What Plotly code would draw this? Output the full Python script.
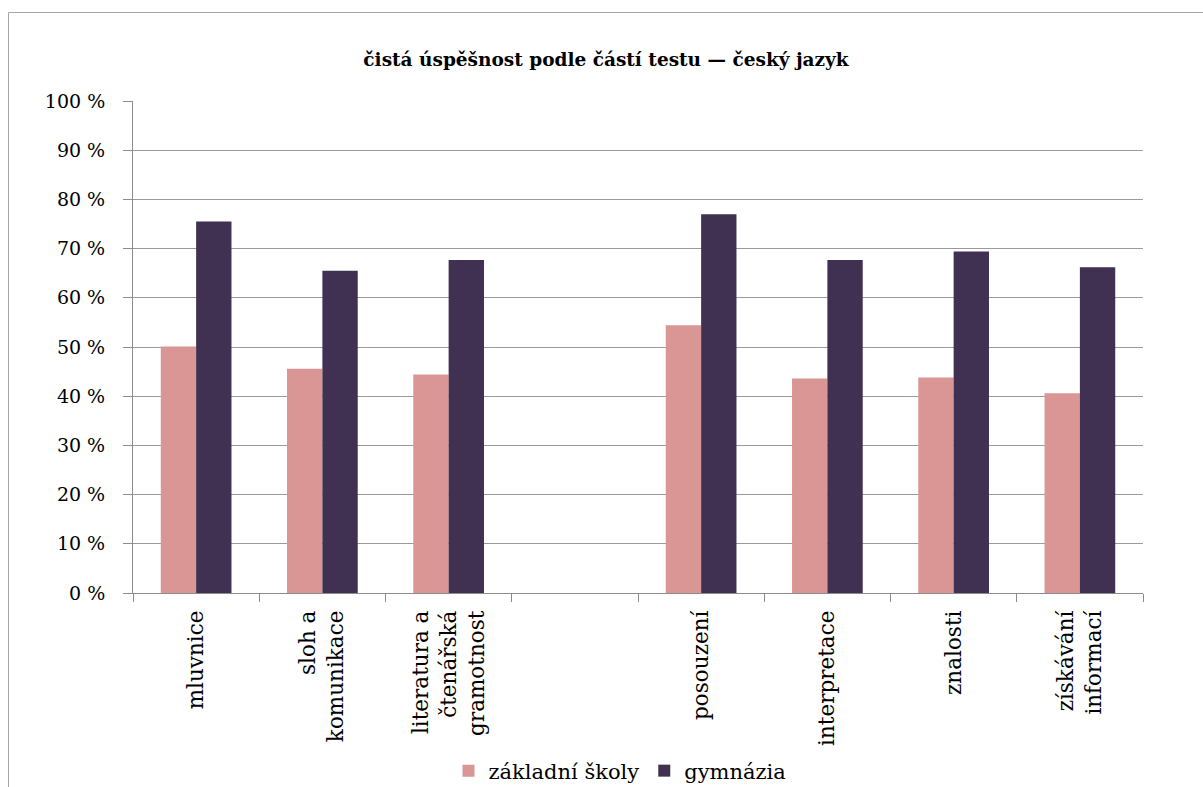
import plotly.graph_objects as go

categories = ["mluvnice", "sloh a<br>komunikace", "literatura a<br>čtenářská<br>gramotnost", " ",
              "posouzení", "interpretace", "znalosti", "získávání<br>informací"]
zakladni = [50.1, 45.6, 44.4, None, 54.4, 43.6, 43.8, 40.6]
gymnazia = [75.5, 65.5, 67.7, None, 77.0, 67.7, 69.4, 66.2]
series_names = ["základní školy", "gymnázia"]
y_ticks = list(range(0, 101, 10))
y_ticktext = [f"{v} %" for v in y_ticks]

FONT = "Palatino Linotype, Book Antiqua, DejaVu Serif, serif"

fig = go.Figure()
fig.add_trace(go.Bar(x=categories, y=zakladni, name=series_names[0],
                     marker=dict(color="#D99694", line=dict(width=0))))
fig.add_trace(go.Bar(x=categories, y=gymnazia, name=series_names[1],
                     marker=dict(color="#403152", line=dict(width=0))))

L, R, T, B = 133, 1143, 101, 593
W, H = 1203, 787
pw, ph = R - L, B - T

def px(x):
    return (x - L) / pw

def py(y):
    return (B - y) / ph

fig.update_layout(
    width=W, height=H,
    margin=dict(l=L, r=W - R, t=T, b=H - B, pad=0, autoexpand=False),
    paper_bgcolor="white", plot_bgcolor="white",
    font=dict(family=FONT, color="#000000", size=17),
    barmode="group", bargap=0.44, bargroupgap=0,
    title=dict(text="<b>čistá úspěšnost podle částí testu — český jazyk</b>",
               font=dict(size=18.5, family=FONT), x=px(606), xref="paper", xanchor="center",
               y=1 - 60 / H, yref="container", yanchor="middle"),
    legend=dict(orientation="h", x=px(620), xanchor="center", y=py(771), yanchor="middle",
                font=dict(size=21, family=FONT), traceorder="normal",
                bgcolor="rgba(0,0,0,0)", itemsizing="constant"),
    showlegend=True,
)
fig.update_xaxes(
    type="category", showline=True, linecolor="#8c8c8c", linewidth=1,
    ticks="outside", tickson="boundaries", ticklen=8, tickcolor="#8c8c8c",
    tickangle=-90, tickfont=dict(size=21.5, family=FONT), showgrid=False,
    ticklabelstandoff=8, automargin=False,
)
fig.update_yaxes(
    range=[0, 100], tickvals=y_ticks, ticktext=y_ticktext,
    showline=True, linecolor="#8c8c8c", linewidth=1,
    ticks="outside", ticklen=9, tickcolor="#8c8c8c",
    showgrid=True, gridcolor="#9a9a9a", gridwidth=1,
    tickfont=dict(size=19, family=FONT), zeroline=False,
    ticklabelstandoff=14, automargin=False,
)
fig.add_shape(type="rect", xref="paper", yref="paper",
              x0=px(8.5), x1=px(1260), y0=py(850), y1=py(12.5),
              line=dict(color="#a6a6a6", width=1), fillcolor="rgba(0,0,0,0)", layer="below")

fig.write_html("out.html")
